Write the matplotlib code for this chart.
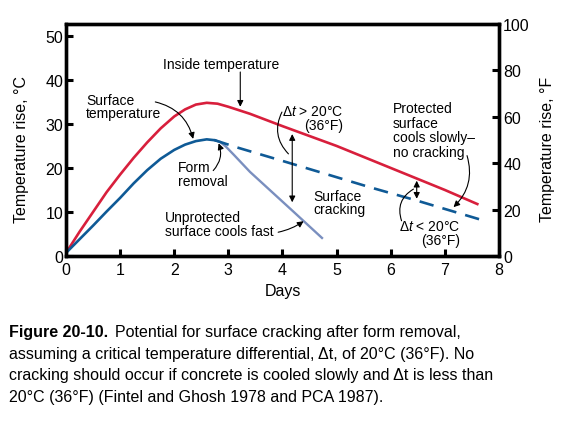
import matplotlib.pyplot as plt

plt.rcParams['font.family'] = ['Liberation Sans', 'DejaVu Sans']
plt.rcParams['mathtext.fontset'] = 'custom'
plt.rcParams['mathtext.it'] = 'Liberation Sans:italic'
plt.rcParams['mathtext.rm'] = 'Liberation Sans'

# inside temperature (red)
inside_days = [0, 0.25, 0.5, 0.75, 1.0, 1.25, 1.5, 1.75, 2.0, 2.2, 2.4, 2.6, 2.8, 3.0, 3.4, 4.0, 5.0, 6.0, 7.0, 7.6]
inside_temp = [0.7, 5.5, 10.0, 14.5, 18.5, 22.3, 25.8, 29.0, 31.7, 33.3, 34.4, 34.8, 34.6, 33.9, 32.3, 29.5, 25.0, 20.0, 15.0, 11.8]

# surface temperature before form removal (dark blue)
surface_days = [0, 0.25, 0.5, 0.75, 1.0, 1.25, 1.5, 1.75, 2.0, 2.2, 2.4, 2.6, 2.75]
surface_temp = [0.7, 3.8, 6.9, 10.1, 13.2, 16.5, 19.5, 22.1, 24.1, 25.3, 26.1, 26.5, 26.3]

# unprotected surface after form removal (grey blue)
unprot_days = [2.75, 2.85, 2.95, 3.1, 3.4, 3.8, 4.2, 4.73]
unprot_temp = [26.3, 25.9, 24.9, 23.0, 19.1, 14.6, 10.1, 4.1]

# protected surface after form removal (dashed)
prot_days = [2.75, 3.15, 4.0, 5.0, 5.62, 6.48, 7.65]
prot_temp = [26.3, 24.7, 21.6, 17.9, 15.6, 12.6, 8.3]

red = '#d81f3c'
blue = '#0f5a96'
grey = '#7a8fbf'

fig = plt.figure(figsize=(5.8, 4.35), dpi=100)
ax = fig.add_axes([0.1138, 0.4092, 0.7465, 0.5333])

ax.plot(inside_days, inside_temp, color=red, lw=1.9, solid_joinstyle='round')
ax.plot(unprot_days, unprot_temp, color=grey, lw=1.7, solid_joinstyle='round')
ax.plot(prot_days, prot_temp, color=blue, lw=1.9, dashes=(5.5, 3.5))
ax.plot(surface_days, surface_temp, color=blue, lw=1.9, solid_joinstyle='round')

ax.set_xlim(0, 8)
ax.set_ylim(0, 52.7)
ax.set_xticks(range(0, 9))
ax.set_yticks(range(0, 51, 10))
ax.tick_params(axis='x', direction='in', length=5, width=2.2, labelsize=11.5, pad=4)
ax.tick_params(axis='y', direction='in', length=5, width=2.2, labelsize=11.5, pad=2)
for s in ax.spines.values():
    s.set_linewidth(2.4)

ax2 = ax.twinx()
ax2.set_ylim(0, 100)
ax2.set_yticks(range(0, 101, 20))
ax2.tick_params(axis='y', direction='in', length=5, width=2.2, labelsize=11.5, pad=3)
for s in ax2.spines.values():
    s.set_linewidth(2.4)

ax.text(-0.102, 0.463, 'Temperature rise, °C', transform=ax.transAxes, rotation=90,
        ha='center', va='center', fontsize=11.5)
ax.text(1.111, 0.463, 'Temperature rise, °F', transform=ax.transAxes, rotation=90,
        ha='center', va='center', fontsize=11.5)
ax.text(0.5, -0.118, 'Days', transform=ax.transAxes, ha='center', va='top', fontsize=11.5)

fs = 10
head = dict(arrowstyle='-|>', color='black', lw=0.8, mutation_scale=9, shrinkA=0, shrinkB=0)
both = dict(arrowstyle='<|-|>', color='black', lw=0.8, mutation_scale=9, shrinkA=0, shrinkB=0)
plain = dict(arrowstyle='-', color='black', lw=0.8, shrinkA=0, shrinkB=0)

ax.text(2.87, 43.6, 'Inside temperature', ha='center', va='center', fontsize=fs)
ax.annotate('', xy=(3.22, 33.9), xytext=(3.22, 41.8), arrowprops=head)

ax.text(0.37, 33.9, 'Surface\ntemperature', ha='left', va='center', fontsize=fs, linespacing=0.95)
ax.annotate('', xy=(2.35, 26.6), xytext=(1.65, 35.0),
            arrowprops=dict(head, connectionstyle='arc3,rad=-0.3'))

ax.text(2.07, 18.6, 'Form\nremoval', ha='left', va='center', fontsize=fs, linespacing=0.95)
ax.annotate('', xy=(2.82, 25.6), xytext=(2.72, 19.4),
            arrowprops=dict(head, connectionstyle='arc3,rad=0.3'))

ax.text(1.83, 7.3, 'Unprotected\nsurface cools fast', ha='left', va='center', fontsize=fs, linespacing=0.95)
ax.annotate('', xy=(4.39, 7.9), xytext=(3.92, 5.4),
            arrowprops=dict(head, connectionstyle='arc3,rad=0.1'))

ax.text(5.12, 31.4, 'Δ$\\mathit{t}$ > 20°C\n(36°F)', ha='right', va='center', fontsize=fs,
        linespacing=0.95, multialignment='right')
ax.annotate('', xy=(4.11, 23.2), xytext=(3.99, 32.7),
            arrowprops=dict(plain, connectionstyle='arc3,rad=0.35'))
ax.annotate('', xy=(4.18, 12.2), xytext=(4.18, 27.7), arrowprops=both)

ax.text(4.57, 12.1, 'Surface\ncracking', ha='left', va='center', fontsize=fs, linespacing=0.95)

ax.text(6.04, 28.6, 'Protected\nsurface\ncools slowly–\nno cracking', ha='left', va='center',
        fontsize=fs, linespacing=1.05)
ax.annotate('', xy=(7.16, 11.1), xytext=(7.41, 22.8),
            arrowprops=dict(head, connectionstyle='arc3,rad=-0.3'))

ax.annotate('', xy=(6.48, 13.0), xytext=(6.48, 17.1), arrowprops=both)
ax.text(7.28, 5.2, 'Δ$\\mathit{t}$ < 20°C\n(36°F)', ha='right', va='center', fontsize=fs,
        linespacing=0.95, multialignment='right')
ax.annotate('', xy=(6.42, 15.2), xytext=(6.2, 8.0),
            arrowprops=dict(plain, connectionstyle='arc3,rad=-0.4'))

# caption
cfs = 11.5
x0 = 9 / 580
t = fig.text(x0, 1 - 337 / 435, 'Figure 20-10.', fontsize=cfs, fontweight='bold', va='baseline')
fig.canvas.draw()
bb = t.get_window_extent()
fig.text(bb.x1 / fig.bbox.width + 0.012, 1 - 337 / 435,
         'Potential for surface cracking after form removal,', fontsize=cfs, va='baseline')
lines = ['assuming a critical temperature differential, Δt, of 20°C (36°F). No',
         'cracking should occur if concrete is cooled slowly and Δt is less than',
         '20°C (36°F) (Fintel and Ghosh 1978 and PCA 1987).']
for i, ln in enumerate(lines):
    fig.text(x0, 1 - (359 + 21.3 * i) / 435, ln, fontsize=cfs, va='baseline')

fig.savefig('out.png', dpi=100)
